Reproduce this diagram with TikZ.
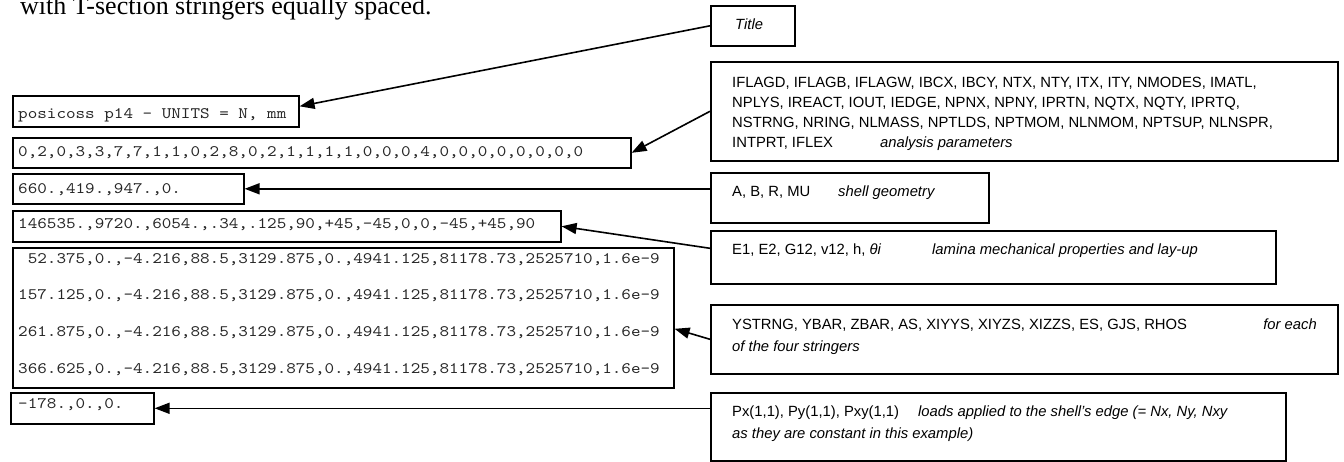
\documentclass[tikz,border=0pt]{standalone}
\usepackage{fontspec}
\setmainfont{Liberation Sans}
\newfontfamily\monof{lmmono10-regular.otf}[FakeStretch=1.14]
\newfontfamily\seriff{Liberation Serif}
\usetikzlibrary{arrows.meta}
\begin{document}
\begin{tikzpicture}[x=1pt,y=-1pt,
  box/.style={draw, line width=1.6pt, anchor=north west, inner sep=0pt},
  mono/.style={font=\monof\fontsize{16}{19}\selectfont, anchor=base west, inner sep=0pt, text=black!85},
  sans/.style={font=\fontsize{14.8}{17}\selectfont, anchor=base west, inner sep=0pt},
  isans/.style={font=\fontsize{14.8}{17}\selectfont\itshape, anchor=base west, inner sep=0pt},
  arr/.style={line width=1.6pt, -{Triangle[length=15pt,width=11pt]}}]
\useasboundingbox (0,0) rectangle (1344,462);
% top partial caption
\node[font=\seriff\fontsize{26}{30}\selectfont, anchor=base west, inner sep=0pt] (cap) at (20,15) {with T-section stringers equally spaced.};
% left boxes
\node[box, minimum width=286pt, minimum height=31pt] (b1) at (12,95) {};
\node[box, minimum width=618pt, minimum height=30pt] (b2) at (12,137) {};
\node[box, minimum width=231pt, minimum height=30pt] (b3) at (12,173) {};
\node[box, minimum width=548pt, minimum height=31pt] (b4) at (12,210) {};
\node[box, minimum width=661pt, minimum height=140pt] (b5) at (12,247) {};
\node[box, minimum width=143pt, minimum height=31pt] (b6) at (10,392) {};
\node[mono] (t1) at (18,119) {posicoss p14 - UNITS = N, mm};
\node[mono] (t2) at (18,157) {0,2,0,3,3,7,7,1,1,0,2,8,0,2,1,1,1,1,0,0,0,4,0,0,0,0,0,0,0,0};
\node[mono] (t3) at (18,194) {660.,419.,947.,0.};
\node[mono] (t4) at (18,229) {146535.,9720.,6054.,.34,.125,90,+45,-45,0,0,-45,+45,90};
\node[mono] (t5a) at (18,264) {\hphantom{0}52.375,0.,-4.216,88.5,3129.875,0.,4941.125,81178.73,2525710,1.6e-9};
\node[mono] (t5b) at (18,300) {157.125,0.,-4.216,88.5,3129.875,0.,4941.125,81178.73,2525710,1.6e-9};
\node[mono] (t5c) at (18,337) {261.875,0.,-4.216,88.5,3129.875,0.,4941.125,81178.73,2525710,1.6e-9};
\node[mono] (t5d) at (18,373) {366.625,0.,-4.216,88.5,3129.875,0.,4941.125,81178.73,2525710,1.6e-9};
\node[mono] (t6) at (18,408) {-178.,0.,0.};
% right boxes
\node[box, minimum width=84pt, minimum height=40pt] (tbox) at (710,5) {};
\node[box, minimum width=627pt, minimum height=99pt] (anbox) at (710,61) {};
\node[box, minimum width=278pt, minimum height=50pt] (abbox) at (710,172) {};
\node[box, minimum width=565pt, minimum height=53pt] (e1box) at (710,230) {};
\node[box, minimum width=627pt, minimum height=69pt] (ysbox) at (710,304) {};
\node[box, minimum width=575pt, minimum height=68pt] (pxbox) at (710,392) {};
\node[isans] (tt) at (735,30) {Title};
\node[sans] (a1) at (732,88) {IFLAGD, IFLAGB, IFLAGW, IBCX, IBCY, NTX, NTY, ITX, ITY, NMODES, IMATL,};
\node[sans] (a2) at (732,108) {NPLYS, IREACT, IOUT, IEDGE, NPNX, NPNY, IPRTN, NQTX, NQTY, IPRTQ,};
\node[sans] (a3) at (732,128) {NSTRNG, NRING, NLMASS, NPTLDS, NPTMOM, NLNMOM, NPTSUP, NLNSPR,};
\node[sans] (a4) at (732,148) {INTPRT, IFLEX};
\node[isans] (a4i) at (880,148) {analysis parameters};
\node[sans] (g1) at (732,197) {A, B, R, MU};
\node[isans] (g1i) at (838,197) {shell geometry};
\node[sans] (e1) at (732,255) {E1, E2, G12, v12, h, \textit{θi}};
\node[isans] (e1i) at (932,255) {lamina mechanical properties and lay-up};
\node[sans] (y1) at (732,330) {YSTRNG, YBAR, ZBAR, AS, XIYYS, XIYZS, XIZZS, ES, GJS, RHOS};
\node[isans, anchor=base east] (y1i) at (1317,330) {for each};
\node[isans] (y2) at (732,351) {of the four stringers};
\node[sans] (p1) at (732,416) {Px(1,1), Py(1,1), Pxy(1,1)};
\node[isans] (p1i) at (918,416) {loads applied to the shell's edge (= Nx, Ny, Nxy};
\node[isans] (p2) at (732,438) {as they are constant in this example)};
% connectors
\draw[arr] (tbox.west) -- ([yshift=5pt]b1.east);
\draw[arr] (anbox.west) -- (b2.east);
\draw[arr] (abbox.west |- b3.east) -- (b3.east);
\draw[arr] ([yshift=9pt]e1box.west) -- (b4.east);
\draw[arr] (ysbox.west) -- ([yshift=-11pt]b5.east);
\draw[arr] (pxbox.west |- b6.east) -- (b6.east);
\end{tikzpicture}
\end{document}
